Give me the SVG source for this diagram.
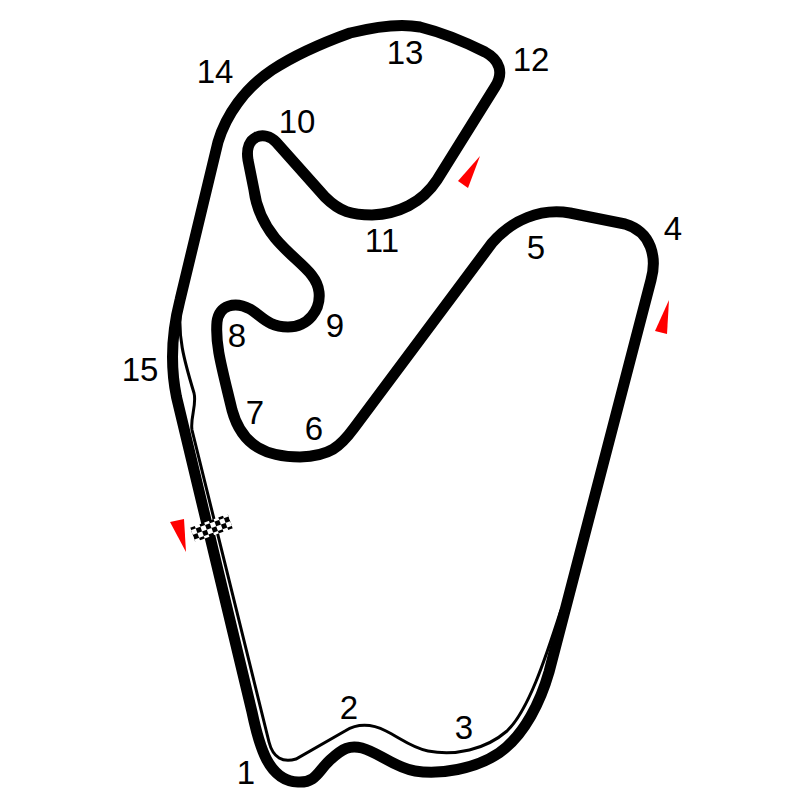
<svg xmlns="http://www.w3.org/2000/svg" width="800" height="800" viewBox="0 0 800 800">
<style>
.t{fill:none;stroke:#000;stroke-width:11;stroke-linejoin:round}
.p{fill:none;stroke:#000;stroke-width:3}
.a{fill:#f00}
.l{font-family:"Liberation Sans",Arial,sans-serif;font-size:33px;fill:#000;text-anchor:middle}
</style>
<defs>
<pattern id="chk" patternUnits="userSpaceOnUse" width="10" height="10">
<rect width="10" height="10" fill="#fff"/>
<rect width="5" height="5" fill="#000"/>
<rect x="5" y="5" width="5" height="5" fill="#000"/>
</pattern>
</defs>
<rect width="800" height="800" fill="#fff"/>
<g id="connectors">
<path id="pit" class="p" d="M181 305C177 335 184 360 194 393C197 405 190 418 192 430L269 742C273 758 283 763 296 759L345 731C358 723 372 724 386 731C400 738 412 748 428 751C455 756 485 750 507 731C528 711 545 660 561 610"/>
<path id="track" class="t" d="M180 300C171 335 170 365 176.500 397L252 712C259 745 268 781 298 782C316 783 318 771 330 760C343 748 350 745 362 748C378 752 395 768 415 771C440 775 475 769 499 753C525 735 541 700 549 672L651 280C657 258 652 232 625 224L570 213C540 208 512 220 492 243L354 428C340 447 330 456 300 457C268 457 242 447 232 410C222 368 215 345 217 322C219 305 235 301 250 309C262 316 268 327 288 327C308 327 321 310 319 292C317 272 295 262 275 238C262 222 256 205 254 190L248 160C244 135 265 130 276 142L325 197C340 212 352 215 372 215C398 214 422 203 437 180L495 87C504 73 500 60 485 52C465 42 440 32 420 27C400 23 378 26 350 33C325 42 295 55 272 70C245 88 226 115 218 142L180 300"/>
</g>
<g id="start">
<rect x="-20" y="-7.500" width="40" height="15" fill="url(#chk)" transform="translate(211.500 528) rotate(-20)"/>
</g>
<g id="sector-marks">
<polygon class="a" points="170,522 184,519 186,552"/>
<polygon class="a" points="458,181 480,156 468,188"/>
<polygon class="a" points="655,331 669,300 667,334"/>
</g>
<g id="labels">
<text class="l" x="246" y="784">1</text>
<text class="l" x="349" y="719">2</text>
<text class="l" x="464" y="739">3</text>
<text class="l" x="673" y="240">4</text>
<text class="l" x="536" y="259">5</text>
<text class="l" x="314" y="440">6</text>
<text class="l" x="255" y="424">7</text>
<text class="l" x="237" y="347">8</text>
<text class="l" x="335" y="337">9</text>
<text class="l" x="297" y="133">10</text>
<text class="l" x="382" y="252">11</text>
<text class="l" x="531" y="71">12</text>
<text class="l" x="405" y="64">13</text>
<text class="l" x="215" y="83">14</text>
<text class="l" x="140" y="381">15</text>
</g>
</svg>
